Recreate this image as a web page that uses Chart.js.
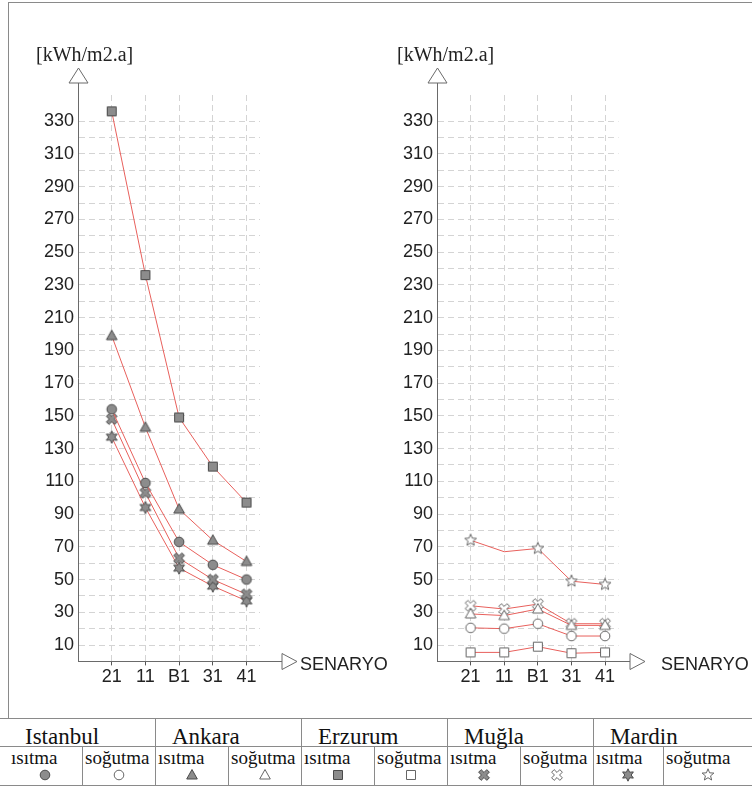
<!DOCTYPE html>
<html>
<head>
<meta charset="utf-8">
<script src="https://cdn.jsdelivr.net/npm/chart.js@4.4.0/dist/chart.umd.min.js"></script>
<style>
body { margin: 0; width: 752px; height: 787px; background: #fff; position: relative; overflow: hidden; }
#leftChart, #rightChart { position: absolute; top: 0; }
.unit { position: absolute; top: 44px; font: 20px "Liberation Serif", serif; line-height: 20px; color: #222; white-space: nowrap; }
.senaryo { position: absolute; top: 655px; font: 18px "Liberation Sans", Arial, sans-serif; line-height: 18px; color: #222; }
.line { position: absolute; background: #8a8a8a; }
.city { position: absolute; top: 726px; font: 23px "Liberation Serif", serif; line-height: 22px; color: #111; white-space: nowrap; }
.mode { position: absolute; top: 748px; font: 19px "Liberation Serif", serif; line-height: 19px; color: #111; white-space: nowrap; }
.icon { position: absolute; }
</style>
</head>
<body>
<canvas id="leftChart" width="360" height="710" style="left:0"></canvas>
<canvas id="rightChart" width="392" height="710" style="left:360px"></canvas>
<div class="unit" style="left:36px">[kWh/m2.a]</div>
<div class="unit" style="left:397px">[kWh/m2.a]</div>
<div class="senaryo" style="left:300px">SENARYO</div>
<div class="senaryo" style="left:661px">SENARYO</div>
<div id="legend"></div>
<script>
const scenarios = ['21', '11', 'B1', '31', '41'];

// ısıtma (sol grafik)
const istanbulIsitma = [154, 109, 73, 59, 50];
const ankaraIsitma = [199, 143, 93, 74, 61];
const erzurumIsitma = [336, 236, 149, 119, 97];
const muglaIsitma = [148, 103, 63, 50, 41];
const mardinIsitma = [137, 94, 57, 46, 37];

// soğutma (sağ grafik)
const istanbulSogutma = [20.5, 20, 23, 15.5, 15.5];
const ankaraSogutma = [29, 28, 32, 22, 22];
const erzurumSogutma = [5.5, 5.5, 9, 5, 5.5];
const muglaSogutma = [34, 32, 35, 23, 23];
const mardinSogutma = [74, 67, 69, 49, 47];

const cities = ['Istanbul', 'Ankara', 'Erzurum', 'Muğla', 'Mardin'];
const modes = ['ısıtma', 'soğutma'];
const shapes = ['circle', 'triangle', 'square', 'cross', 'star'];
const yMax = 346;

// marker cizimi
function makeMarker(shape, filled) {
    const c = document.createElement('canvas');
    c.width = 14; c.height = 14;
    const g = c.getContext('2d');
    g.fillStyle = filled ? '#8c8c8c' : '#ffffff';
    g.strokeStyle = filled ? '#4a4a4a' : '#666666';
    g.lineWidth = 1;
    g.beginPath();
    const cx = 7, cy = 7;
    if (shape === 'circle') {
        g.arc(cx, cy, 4.8, 0, Math.PI * 2);
    } else if (shape === 'triangle') {
        g.moveTo(cx, 1.5); g.lineTo(12.3, 11); g.lineTo(1.7, 11); g.closePath();
    } else if (shape === 'square') {
        g.rect(2.5, 2.5, 9, 9);
    } else if (shape === 'cross') {
        const L = 5.8, t = 1.8;
        const pts = [[t, t], [t, L], [-t, L], [-t, t], [-L, t], [-L, -t], [-t, -t], [-t, -L], [t, -L], [t, -t], [L, -t], [L, t]];
        pts.forEach((p, i) => {
            const a = Math.PI / 4;
            const x = cx + p[0] * Math.cos(a) - p[1] * Math.sin(a);
            const y = cy + p[0] * Math.sin(a) + p[1] * Math.cos(a);
            if (i === 0) g.moveTo(x, y); else g.lineTo(x, y);
        });
        g.closePath();
    } else if (shape === 'star') {
        const n = filled ? 6 : 5;
        const ro = 6.2, ri = filled ? 3.2 : 2.7;
        for (let i = 0; i < n * 2; i++) {
            const r = i % 2 === 0 ? ro : ri;
            const a = -Math.PI / 2 + i * Math.PI / n;
            const x = cx + r * Math.cos(a), y = cy + r * Math.sin(a);
            if (i === 0) g.moveTo(x, y); else g.lineTo(x, y);
        }
        g.closePath();
    }
    g.fill();
    g.stroke();
    return c;
}

// eksen oklari
const axisArrows = {
    id: 'axisArrows',
    afterDraw(chart, args, opts) {
        const ctx = chart.ctx;
        const a = chart.chartArea;
        const x0 = Math.round(a.left) + 0.5;
        const yb = Math.round(a.bottom) + 0.5;
        ctx.save();
        ctx.strokeStyle = '#6a6a6a';
        ctx.fillStyle = '#fff';
        ctx.lineWidth = 1;
        const base = a.top - 12;
        ctx.beginPath(); ctx.moveTo(x0, a.top); ctx.lineTo(x0, base); ctx.stroke();
        ctx.beginPath();
        ctx.moveTo(x0 - 9.5, base); ctx.lineTo(x0 + 9.5, base); ctx.lineTo(x0, base - 15); ctx.closePath();
        ctx.fill(); ctx.stroke();
        const xs = a.right + opts.gap;
        ctx.beginPath(); ctx.moveTo(a.right, yb); ctx.lineTo(xs, yb); ctx.stroke();
        ctx.beginPath();
        ctx.moveTo(xs, yb - 8); ctx.lineTo(xs, yb + 8); ctx.lineTo(xs + 15, yb); ctx.closePath();
        ctx.fill(); ctx.stroke();
        ctx.restore();
    }
};

function makeChart(id, series, filled, yWidth, padRight, gap) {
    const datasets = series.map((vals, k) => ({
        data: vals.map((v, i) => ({ x: i, y: v })),
        borderColor: '#e8605c',
        borderWidth: 1,
        pointStyle: makeMarker(shapes[k], filled),
        pointRadius: vals.map(() => 4),
        showLine: true,
        tension: 0
    }));
    return new Chart(document.getElementById(id), {
        type: 'scatter',
        data: { datasets },
        options: {
            responsive: false,
            animation: false,
            events: [],
            layout: { padding: { top: 95, right: padRight, bottom: 18.6, left: 0 } },
            plugins: { legend: { display: false }, tooltip: { enabled: false }, axisArrows: { gap } },
            scales: {
                x: {
                    type: 'linear', min: -1, max: 4.4,
                    afterBuildTicks: s => { s.ticks = scenarios.map((c, i) => ({ value: i })); },
                    afterFit: s => { s.height = 30; },
                    ticks: {
                        callback: v => scenarios[v],
                        font: { family: 'Liberation Sans', size: 18 },
                        color: '#222',
                        padding: 1,
                        maxRotation: 0
                    },
                    grid: { color: '#d4d4d4', tickLength: 4, tickColor: '#555', tickBorderDash: [] },
                    border: { color: '#6a6a6a', dash: [6, 4] }
                },
                y: {
                    min: 0, max: yMax,
                    afterBuildTicks: s => { s.ticks = s.ticks.filter(t => t.value % 10 === 0); },
                    afterFit: s => { s.width = yWidth; },
                    ticks: {
                        stepSize: 10,
                        autoSkip: false,
                        callback: v => (v % 20 === 10 ? v : ''),
                        font: { family: 'Liberation Sans', size: 18 },
                        color: '#222',
                        padding: 4
                    },
                    grid: { color: '#d4d4d4', drawTicks: false },
                    border: { color: '#6a6a6a', dash: [6, 4] }
                }
            }
        },
        plugins: [axisArrows]
    });
}

makeChart('leftChart',
    [istanbulIsitma, ankaraIsitma, erzurumIsitma, muglaIsitma, mardinIsitma],
    true, 78, 100, 22);
const right = makeChart('rightChart',
    [istanbulSogutma, ankaraSogutma, erzurumSogutma, muglaSogutma, mardinSogutma],
    false, 77, 133.5, 11.5);
// Mardin soğutma 11 noktasinda isaret yok
right.data.datasets[4].pointRadius = [4, 0, 4, 4, 4];
right.update();

// lejant tablosu
const legend = document.getElementById('legend');
const colEdges = [8, 82, 155, 228, 301, 374, 447, 520, 593, 663, 752];
function addLine(x, y, w, h) {
    const d = document.createElement('div');
    d.className = 'line';
    d.style.cssText = `left:${x}px;top:${y}px;width:${w}px;height:${h}px`;
    legend.appendChild(d);
}
addLine(8, 2, 744, 1);
addLine(8, 2, 1, 716);
addLine(0, 718, 752, 1);
addLine(0, 746, 752, 1);
addLine(0, 785, 752, 1);
colEdges.slice(1, -1).forEach((x, i) => {
    if (i % 2 === 1) addLine(x, 718, 1, 67);
    else addLine(x, 746, 1, 39);
});
cities.forEach((city, ci) => {
    const d = document.createElement('div');
    d.className = 'city';
    d.textContent = city;
    d.style.left = (colEdges[ci * 2] + 17) + 'px';
    legend.appendChild(d);
    modes.forEach((m, mi) => {
        const l = colEdges[ci * 2 + mi], r = colEdges[ci * 2 + mi + 1];
        const t = document.createElement('div');
        t.className = 'mode';
        t.textContent = m;
        t.style.left = (l + 3) + 'px';
        legend.appendChild(t);
        const ic = makeMarker(shapes[ci], mi === 0);
        ic.className = 'icon';
        ic.style.left = ((l + r) / 2 - 7) + 'px';
        ic.style.top = '768px';
        legend.appendChild(ic);
    });
});
</script>
</body>
</html>
